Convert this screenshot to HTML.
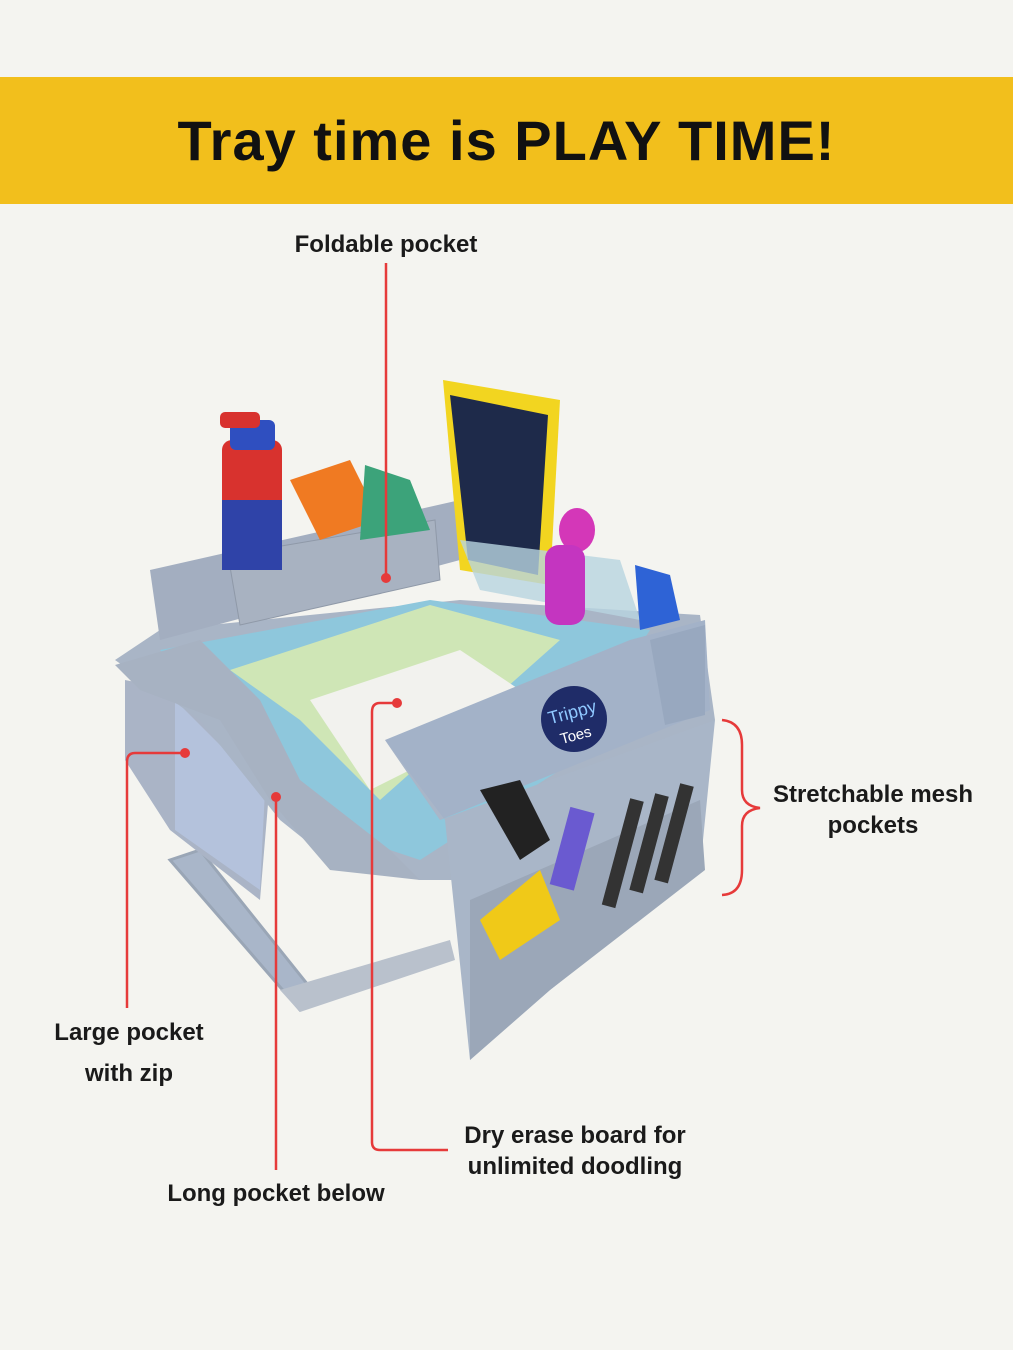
<!DOCTYPE html>
<html><head><meta charset="utf-8"><style>
html,body{margin:0;padding:0;background:#f4f4f0;}
body{width:1013px;height:1350px;position:relative;overflow:hidden;font-family:"Liberation Sans",sans-serif;}
.banner{position:absolute;left:0;top:77px;width:1013px;height:127px;background:#f2bf1c;}
.banner h1{margin:0;text-align:center;line-height:127px;font-size:56px;font-weight:bold;color:#111;letter-spacing:1px;}
.lbl{position:absolute;font-size:24px;font-weight:bold;color:#1a1a1a;text-align:center;line-height:31px;}
svg{position:absolute;left:0;top:0;}
</style></head><body>
<div class="banner"><h1>Tray time is PLAY TIME!</h1></div>
<svg width="1013" height="1350" viewBox="0 0 1013 1350">
<!-- product approximation -->
<g>
<!-- shoulder strap -->
<path d="M170 860 L200 850 L320 1000 L300 1010 Z" fill="#a9b6c9" stroke="#9aa6b6" stroke-width="3"/>
<path d="M280 990 L450 940 L455 960 L300 1012 Z" fill="#b9c1cc"/>
<!-- left pocket -->
<path d="M125 680 L175 690 L270 780 L260 900 L170 830 L125 760 Z" fill="#aab4c6"/>
<path d="M175 700 L265 790 L260 890 L175 830 Z" fill="#b4c2dc"/>
<!-- tray base -->
<path d="M115 660 L160 630 L460 600 L700 615 L715 720 L560 880 L420 880 L330 860 L280 820 L200 720 Z" fill="#a9b5c6"/>
<!-- board -->
<path d="M160 650 L430 600 L650 630 L560 770 L420 860 L330 830 L270 760 Z" fill="#8ec7dc"/>
<path d="M230 670 L430 605 L560 640 L470 720 L380 800 L300 720 Z" fill="#cfe6b6"/>
<path d="M310 700 L460 650 L520 690 L430 760 L370 790 Z" fill="#f2f2ee"/>
<!-- rim -->
<path d="M115 665 L200 640 L260 700 L300 780 L390 850 L420 880 L330 870 L270 800 L220 720 L140 690 Z" fill="#a7b2c2"/>
<!-- back wall -->
<path d="M150 570 L460 500 L460 560 L160 640 Z" fill="#a3aec0"/>
<!-- foldable pocket -->
<path d="M228 555 L435 520 L440 580 L240 625 Z" fill="#a8b2c1" stroke="#8f99a8"/>
<!-- bottle -->
<rect x="222" y="440" width="60" height="130" rx="10" fill="#d8322e"/>
<rect x="222" y="500" width="60" height="70" fill="#2f43a8"/>
<rect x="230" y="420" width="45" height="30" rx="6" fill="#2f4fc0"/>
<rect x="220" y="412" width="40" height="16" rx="5" fill="#d8322e"/>
<!-- camera toy -->
<path d="M290 480 L350 460 L380 520 L320 540 Z" fill="#f07a22"/>
<path d="M365 465 L410 480 L430 530 L360 540 Z" fill="#3ca37a"/>
<!-- doodle board -->
<path d="M443 380 L560 400 L550 585 L460 570 Z" fill="#f2d520"/>
<path d="M450 395 L548 415 L538 575 L468 560 Z" fill="#1e2a4a"/>
<path d="M460 540 L620 560 L640 620 L480 590 Z" fill="#b8d4e0" opacity="0.8"/>
<!-- monkey -->
<ellipse cx="577" cy="530" rx="18" ry="22" fill="#d437b8"/>
<rect x="545" y="545" width="40" height="80" rx="14" fill="#c435c0"/>
<!-- blue toy -->
<path d="M635 565 L670 575 L680 620 L640 630 Z" fill="#2e63d6"/>
<!-- right front panel -->
<path d="M385 740 L630 640 L705 620 L710 710 L440 820 Z" fill="#a3b2c8"/>
<path d="M650 640 L705 625 L705 715 L665 725 Z" fill="#98a8bf"/>
<path d="M385 740 L445 820 L470 1060 L550 990 L700 870 L715 720 L440 820 Z" fill="#a9b6c8"/>
<path d="M470 900 L700 800 L705 870 L550 990 L470 1060 Z" fill="#9ba7b8"/>
<!-- logo -->
<circle cx="574" cy="719" r="33" fill="#1f2c68"/>
<text x="574" y="718" font-family="Liberation Sans,sans-serif" font-size="18" fill="#8fc8ff" text-anchor="middle" transform="rotate(-15 574 719)">Trippy</text>
<text x="577" y="740" font-family="Liberation Sans,sans-serif" font-size="15" fill="#ffffff" text-anchor="middle" transform="rotate(-15 577 740)">Toes</text>
<!-- pens -->
<rect x="630" y="800" width="14" height="110" fill="#333" transform="rotate(15 637 800)"/>
<rect x="655" y="795" width="14" height="100" fill="#333" transform="rotate(15 662 795)"/>
<rect x="680" y="785" width="14" height="100" fill="#333" transform="rotate(15 687 785)"/>
<rect x="570" y="810" width="25" height="80" fill="#6a5ad0" transform="rotate(15 582 810)"/>
<path d="M480 920 L540 870 L560 920 L500 960 Z" fill="#f0c918"/>
<path d="M480 790 L520 780 L550 840 L520 860 Z" fill="#222"/>
</g>
<!-- connectors -->
<g stroke="#e63a3a" stroke-width="2.5" fill="none">
<line x1="386" y1="263" x2="386" y2="578"/>
<path d="M185 753 L135 753 Q127 753 127 762 L127 1008"/>
<line x1="276" y1="797" x2="276" y2="1170"/>
<path d="M397 703 L380 703 Q372 703 372 712 L372 1142 Q372 1150 380 1150 L448 1150"/>
<path d="M722 720 Q742 722 742 745 L742 790 Q742 806 760 808 Q742 810 742 826 L742 870 Q742 894 722 895"/>
</g>
<g fill="#e63a3a">
<circle cx="386" cy="578" r="5"/><circle cx="185" cy="753" r="5"/><circle cx="276" cy="797" r="5"/><circle cx="397" cy="703" r="5"/>
</g>
</svg>
<div class="lbl" style="left:236px;top:229px;width:300px;">Foldable pocket</div>
<div class="lbl" style="left:0;top:1012px;width:258px;line-height:41px;">Large pocket<br>with zip</div>
<div class="lbl" style="left:126px;top:1178px;width:300px;">Long pocket below</div>
<div class="lbl" style="left:425px;top:1120px;width:300px;">Dry erase board for<br>unlimited doodling</div>
<div class="lbl" style="left:753px;top:779px;width:240px;">Stretchable mesh<br>pockets</div>
</body></html>
